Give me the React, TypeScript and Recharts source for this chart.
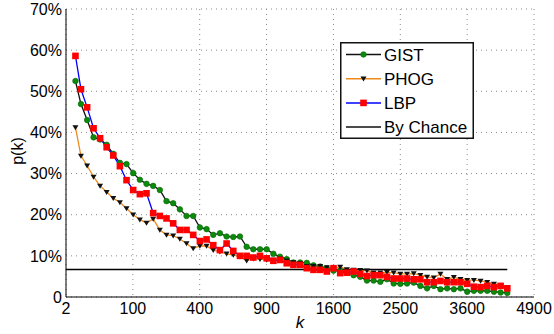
import React from "react";
import { CartesianGrid, Legend, Line, LineChart, XAxis, YAxis } from "recharts";

// k positions shared by all three descriptors
const kValues = [
  2, 5, 10, 17, 26, 37, 50, 65, 82, 101, 122, 145, 170, 197, 226, 257, 290,
  325, 362, 401, 442, 485, 530, 577, 626, 677, 730, 785, 842, 901, 962, 1025,
  1090, 1157, 1226, 1297, 1370, 1445, 1522, 1601, 1682, 1765, 1850, 1937,
  2026, 2117, 2210, 2305, 2402, 2501, 2602, 2705, 2810, 2917, 3026, 3137,
  3250, 3365, 3482, 3601, 3722, 3845, 3970, 4097, 4226, 4357,
];

const gistValues = [
  52.5, 46.9, 43.0, 38.8, 38.3, 37.0, 34.8, 32.6, 32.3, 30.1, 28.5, 27.5,
  27.0, 26.0, 23.3, 22.8, 21.3, 19.7, 19.7, 16.9, 16.5, 15.1, 15.5, 14.7,
  14.6, 14.7, 12.2, 11.6, 11.6, 11.6, 10.5, 9.8, 9.2, 8.4, 8.4, 8.3, 7.7,
  7.4, 7.0, 6.4, 6.4, 6.0, 5.3, 4.9, 4.0, 4.0, 3.7, 4.3, 3.3, 3.2, 3.3, 3.5,
  2.7, 2.1, 2.7, 1.9, 2.1, 1.9, 2.1, 1.3, 1.5, 1.5, 1.5, 1.3, 1.1, 1.0,
];

const phogValues = [
  41.2, 34.3, 31.9, 29.2, 27.0, 25.5, 24.0, 23.0, 21.5, 20.0, 18.8, 18.0,
  19.0, 16.3, 15.1, 14.9, 14.1, 13.0, 11.8, 12.4, 12.4, 11.4, 11.0, 10.5,
  10.2, 9.8, 8.8, 9.3, 9.2, 9.0, 9.0, 9.3, 8.8, 8.4, 8.2, 7.5, 7.5, 7.5, 7.2,
  7.0, 7.3, 6.7, 6.6, 6.5, 6.4, 5.9, 5.9, 6.0, 5.9, 5.6, 5.6, 5.7, 5.3, 4.9,
  4.7, 5.6, 4.3, 4.8, 4.3, 4.1, 4.1, 3.9, 3.6, 3.2, 2.8, 2.3,
];

const lbpValues = [
  58.6, 50.5, 46.1, 41.0, 38.6, 36.4, 34.4, 31.8, 28.4, 26.0, 25.0, 25.2,
  20.4, 19.7, 19.1, 17.9, 16.3, 16.3, 15.1, 13.6, 14.0, 12.6, 11.4, 13.0,
  11.2, 10.0, 10.0, 9.6, 10.0, 9.4, 8.8, 9.0, 8.2, 7.8, 7.8, 7.0, 6.6, 6.6,
  6.2, 7.0, 5.8, 5.9, 6.2, 5.6, 5.1, 5.3, 5.3, 4.9, 4.5, 4.5, 4.5, 4.3, 4.3,
  3.6, 3.6, 3.9, 3.6, 3.6, 3.6, 3.2, 2.5, 2.4, 2.7, 2.4, 2.7, 2.1,
];

const byChance = 6.67;
const chanceK = [0, 4357];

const xTicks = [0, 100, 400, 900, 1600, 2500, 3600, 4900];
const xTickLabels = ["2", "100", "400", "900", "1600", "2500", "3600", "4900"];
const yTicks = [0, 10, 20, 30, 40, 50, 60, 70];

const data = kValues.map((k, i) => ({
  k,
  gist: gistValues[i],
  phog: phogValues[i],
  lbp: lbpValues[i],
}));
const chanceData = chanceK.map((k) => ({ k, chance: byChance }));

const FONT = '"Liberation Sans", Arial, Helvetica, sans-serif';
const ORANGE = "#EE8A1C";

const GreenDot = (p: any) =>
  p.cx == null ? null : (
    <circle key={p.index} cx={p.cx} cy={p.cy} r={2.8} fill="#0C8A0C" stroke="#066806" strokeWidth={0.6} />
  );

const TriDot = (p: any) =>
  p.cx == null ? null : (
    <path
      key={p.index}
      d={`M${p.cx - 3},${p.cy - 2.2}L${p.cx + 3},${p.cy - 2.2}L${p.cx},${p.cy + 2.8}Z`}
      fill="#111"
    />
  );

const SquareDot = (p: any) =>
  p.cx == null ? null : (
    <rect key={p.index} x={p.cx - 3.3} y={p.cy - 3.3} width={6.6} height={6.6} fill="#FF0000" />
  );

const legendItems = [
  { name: "GIST", color: "#111", marker: "circle" },
  { name: "PHOG", color: ORANGE, marker: "tri" },
  { name: "LBP", color: "#0000FF", marker: "square" },
  { name: "By Chance", color: "#111", marker: "none" },
];

function LegendBox() {
  return (
    <svg width={134} height={97} style={{ display: "block" }}>
      <rect x={0.75} y={0.75} width={132.5} height={95.5} fill="#fff" stroke="#111" strokeWidth={1.5} />
      {legendItems.map((it, i) => {
        const y = 12.5 + i * 24.2;
        return (
          <g key={it.name}>
            <line x1={6} x2={41} y1={y} y2={y} stroke={it.color} strokeWidth={1.5} />
            {it.marker === "circle" && <GreenDot cx={23.5} cy={y} />}
            {it.marker === "tri" && <TriDot cx={23.5} cy={y} />}
            {it.marker === "square" && <SquareDot cx={23.5} cy={y} />}
            <text x={44} y={y + 6} fontSize={17} fontFamily={FONT} fill="#000">
              {it.name}
            </text>
          </g>
        );
      })}
    </svg>
  );
}

export default function App() {
  return (
    <div style={{ width: 554, height: 334, background: "#fff" }}>
      <style>{"body{margin:0}"}</style>
      <LineChart
        width={554}
        height={334}
        data={data}
        margin={{ top: 9, right: 20, bottom: 0, left: 0 }}
      >
        <CartesianGrid stroke="#8a8a8a" strokeDasharray="1 4" verticalPoints={undefined} />
        <XAxis
          dataKey="k"
          type="number"
          scale="sqrt"
          domain={[0, 4900]}
          ticks={xTicks}
          tickFormatter={(v: number) => xTickLabels[xTicks.indexOf(v)]}
          height={37}
          tickSize={0}
          tickMargin={6}
          stroke="#000"
          tick={{ fontSize: 16, fill: "#000", fontFamily: FONT }}
          interval={0}
          allowDataOverflow
          label={(props: any) => {
            const vb = props.viewBox;
            return (
              <text
                x={vb.x + vb.width / 2}
                y={vb.y + 31}
                textAnchor="middle"
                fontSize={17}
                fontStyle="italic"
                fontFamily={FONT}
                fill="#000"
              >
                k
              </text>
            );
          }}
        />
        <YAxis
          type="number"
          domain={[0, 70]}
          ticks={yTicks}
          tickFormatter={(v: number) => (v === 0 ? "0" : `${v}%`)}
          width={66}
          tickSize={0}
          tickMargin={4}
          stroke="#000"
          tick={{ fontSize: 16, fill: "#000", fontFamily: FONT }}
          interval={0}
          label={(props: any) => {
            const vb = props.viewBox;
            const x = vb.x + 23;
            const y = vb.y + vb.height / 2 - 2;
            return (
              <text
                x={x}
                y={y}
                transform={`rotate(-90 ${x} ${y})`}
                textAnchor="middle"
                fontSize={16}
                fontFamily={FONT}
                fill="#000"
              >
                p(k)
              </text>
            );
          }}
        />
        <Legend
          layout="horizontal"
          align="center"
          verticalAlign="middle"
          wrapperStyle={{ left: 340, top: 42, width: 134, height: 97 }}
          content={() => <LegendBox />}
        />
        <Line
          dataKey="gist"
          stroke="#111"
          strokeWidth={1.3}
          dot={(p: any) => <GreenDot {...p} key={p.index} />}
          isAnimationActive={false}
          name="GIST"
        />
        <Line
          dataKey="phog"
          stroke={ORANGE}
          strokeWidth={1.3}
          dot={(p: any) => <TriDot {...p} key={p.index} />}
          isAnimationActive={false}
          name="PHOG"
        />
        <Line
          dataKey="lbp"
          stroke="#0000FF"
          strokeWidth={1.3}
          dot={(p: any) => <SquareDot {...p} key={p.index} />}
          isAnimationActive={false}
          name="LBP"
        />
        <Line
          data={chanceData}
          dataKey="chance"
          stroke="#000"
          strokeWidth={1.5}
          dot={false}
          isAnimationActive={false}
          name="By Chance"
        />
      </LineChart>
    </div>
  );
}
